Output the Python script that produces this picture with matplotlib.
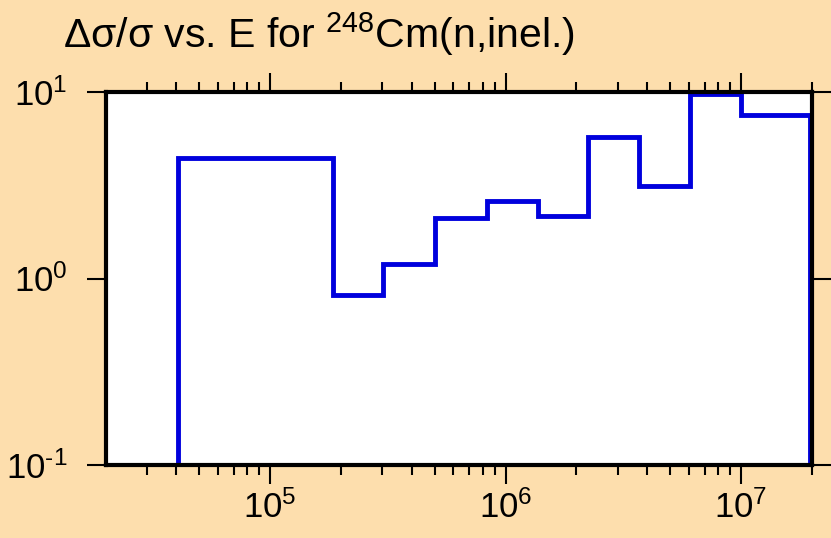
import math
import matplotlib
matplotlib.use("Agg")
import matplotlib.pyplot as plt
from matplotlib.ticker import LogLocator, FuncFormatter, NullFormatter

plt.rcParams['font.family'] = ['Liberation Sans', 'DejaVu Sans']
plt.rcParams['mathtext.fontset'] = 'custom'
plt.rcParams['mathtext.rm'] = 'Liberation Sans'
plt.rcParams['mathtext.it'] = 'Liberation Sans'
plt.rcParams['mathtext.sf'] = 'Liberation Sans'

# Data: energy bin edges (eV) and relative uncertainty values
bin_edges = [4.07e4, 1.85e5, 3.02e5, 5.0e5, 8.3e5, 1.37e6, 2.24e6, 3.7e6, 6.07e6, 1.0e7, 1.96e7]
rel_unc = [4.43, 0.817, 1.2, 2.11, 2.6, 2.16, 5.74, 3.13, 9.8, 7.53]
title_text = "\u0394\u03c3/\u03c3 vs. E for $\\mathregular{^{248}}$Cm(n,inel.)"

bg = '#FDDEAD'
fig = plt.figure(figsize=(8.31, 5.38), dpi=100, facecolor=bg)
ax = fig.add_axes([106/831, 73/538, 706/831, 373/538])
ax.set_facecolor('white')

ax.stairs(rel_unc, bin_edges, baseline=0.1, fill=False, color='#0000DD', lw=3.5, zorder=2)

ax.set_xscale('log')
ax.set_yscale('log')
ax.set_xlim(2.01e4, 2.0e7)
ax.set_ylim(0.1, 10)

def fmt(v, pos):
    e = int(round(math.log10(v)))
    s = str(e).replace('-', r'\text{-}')
    return r"$\mathregular{10^{%s}}$" % s

ax.xaxis.set_major_locator(LogLocator(base=10, numticks=10))
ax.xaxis.set_minor_locator(LogLocator(base=10, subs=range(2, 10), numticks=20))
ax.xaxis.set_major_formatter(FuncFormatter(fmt))
ax.xaxis.set_minor_formatter(NullFormatter())
ax.yaxis.set_major_locator(LogLocator(base=10, numticks=10))
ax.yaxis.set_minor_locator(LogLocator(base=10, subs=[], numticks=10))
ax.yaxis.set_major_formatter(FuncFormatter(fmt))

ax.tick_params(axis='x', which='major', direction='out', length=14, width=1.5,
               top=True, bottom=True, labelsize=25, pad=4, color='black')
ax.tick_params(axis='x', which='minor', direction='out', length=7, width=1.5,
               top=True, bottom=True)
ax.tick_params(axis='y', which='major', direction='out', length=14, width=1.5,
               left=True, right=True, labelsize=25, pad=14)
ax.tick_params(axis='y', which='minor', left=False, right=False)

for s in ax.spines.values():
    s.set_linewidth(3)
    s.set_zorder(3)

fig.text(63/831, 1 - 48/538, title_text, fontsize=29.5, ha='left', va='baseline')

fig.savefig('out.png', dpi=100, facecolor=bg)
